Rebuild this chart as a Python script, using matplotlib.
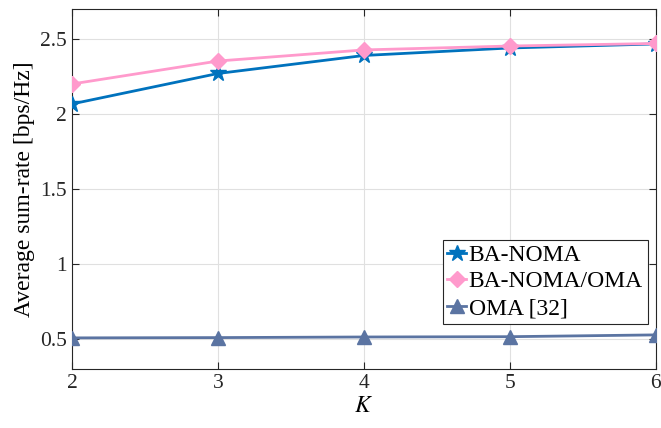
import matplotlib
matplotlib.use('Agg')
import matplotlib.pyplot as plt

K = [2, 3, 4, 5, 6]
ba_noma = [2.067, 2.27, 2.39, 2.44, 2.467]
ba_noma_oma = [2.20, 2.353, 2.427, 2.453, 2.47]
oma = [0.507, 0.509, 0.513, 0.515, 0.527]

plt.rcParams['font.family'] = ['Liberation Serif', 'DejaVu Serif']
plt.rcParams['mathtext.fontset'] = 'stix'

fig = plt.figure(figsize=(6.61, 4.28), dpi=100)
ax = fig.add_axes([0.109, 0.138, 0.883, 0.841])

ax.plot(K, ba_noma, color='#0072BD', lw=2, marker='*', ms=12, label='BA-NOMA', zorder=3)
ax.plot(K, ba_noma_oma, color='#FF9ACC', lw=2, marker='D', ms=8, label='BA-NOMA/OMA', zorder=4)
ax.plot(K, oma, color='#5B74A2', lw=2, marker='^', ms=10, label='OMA [32]', zorder=3)

ax.set_xlim(2, 6)
ax.set_ylim(0.3, 2.7)
ax.set_xticks(K)
ax.set_yticks([0.5, 1, 1.5, 2, 2.5])
ax.set_yticklabels(['0.5', '1', '1.5', '2', '2.5'])
ax.grid(True, color='#e0e0e0', lw=0.8)
ax.set_axisbelow(True)
ax.tick_params(direction='in', top=True, right=True, labelsize=15.5, colors='#262626', length=5)
for s in ax.spines.values():
    s.set_color('#262626')
    s.set_linewidth(0.8)

ax.set_xlabel('$K$', fontsize=17, labelpad=2)
ax.set_ylabel('Average sum-rate [bps/Hz]', fontsize=17, labelpad=4)

leg = ax.legend(loc='lower right', bbox_to_anchor=(0.986, 0.125), fontsize=17, fancybox=False,
                edgecolor='#262626', framealpha=1, handlelength=0.8, handletextpad=0.1,
                borderpad=0.2, labelspacing=0.22, borderaxespad=0)
leg.get_frame().set_linewidth(0.8)

fig.savefig('out.png', dpi=100)
